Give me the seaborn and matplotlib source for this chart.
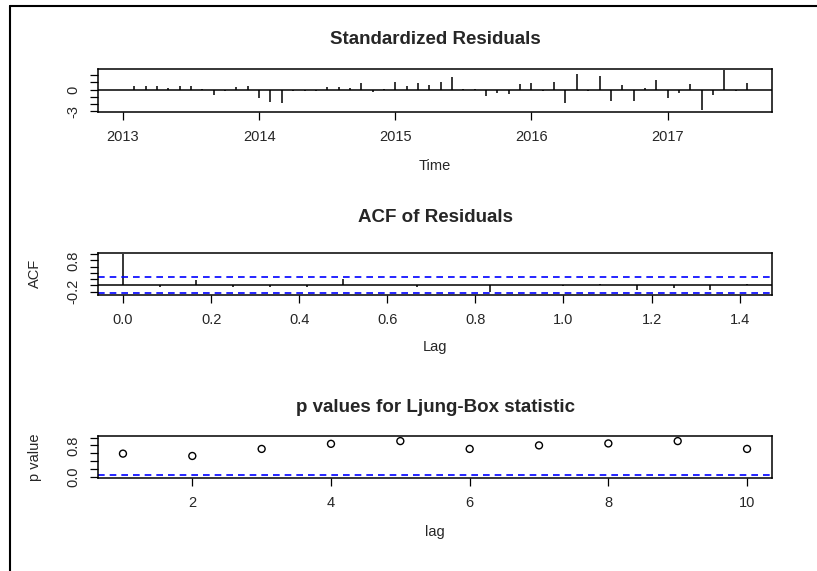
import numpy as np
import pandas as pd
import matplotlib
matplotlib.use("Agg")
import matplotlib.pyplot as plt
from matplotlib.lines import Line2D
import seaborn as sns

# standardized residuals, monthly, Jan 2013 - Aug 2017
start_year = 2013
resid = [0.02, 0.47, 0.47, 0.47, 0.28, 0.47, 0.47, 0.05, -0.70, -0.23,
         0.33, 0.47, -1.16, -1.72, -1.86, -0.23, -0.23, -0.23, 0.42, 0.42,
         0.23, 0.88, -0.33, 0.05, 1.07, 0.47, 0.88, 0.60, 1.07, 1.77,
         0.03, 0.15, -0.88, -0.42, -0.60, 0.74, 0.90, -0.23, 1.07, -1.86,
         2.12, -0.23, 1.90, -1.53, 0.60, -1.53, 0.23, 1.30, -1.16, -0.42,
         0.74, -2.89, -0.70, 2.70, -0.23, 0.93]
year_ticks = [2013, 2014, 2015, 2016, 2017]

# ACF of residuals, lags 0..17 (months)
acf_vals = [1.0, -0.06, 0.16, -0.05, -0.05, -0.05, 0.20, 0.01, -0.07, 0.01,
            -0.22, 0.0, -0.01, 0.04, -0.16, -0.10, -0.16, 0.05]
acf_ticks = [0.0, 0.2, 0.4, 0.6, 0.8, 1.0, 1.2, 1.4]

# Ljung-Box p values
lb_lags = [1, 2, 3, 4, 5, 6, 7, 8, 9, 10]
lb_pvals = [0.59, 0.53, 0.71, 0.84, 0.91, 0.71, 0.80, 0.85, 0.91, 0.71]

sns.set_style("white")
plt.rcParams['font.family'] = ['Liberation Sans', 'DejaVu Sans']

W, H = 817, 571


def r_lim(lo, hi):
    # R style 4% padding
    pad = (hi - lo) * 0.04
    return lo - pad, hi + pad


def px_axes(fig, top, bottom, left=98, right=772):
    return fig.add_axes([left / W, 1 - bottom / H, (right - left) / W, (bottom - top) / H])


def style_axes(ax, yticks, ylabels):
    for s in ax.spines.values():
        s.set_visible(True)
        s.set_color('black')
        s.set_linewidth(1.1)
    ax.tick_params(direction='out', length=6, width=0.9, color='black',
                   labelsize=10.5, pad=7, bottom=True, left=True)
    ax.set_yticks(yticks)
    ax.set_yticklabels(ylabels, rotation=90, va='center')
    ax.set_xlabel('')
    ax.set_ylabel('')
    ax.grid(False)


fig = plt.figure(figsize=(W / 100, H / 100), dpi=100)

# --- standardized residuals ---
ax1 = px_axes(fig, 68.7, 112)
df_res = pd.DataFrame({'time': start_year + np.arange(len(resid)) / 12, 'resid': resid})
ax1.vlines(df_res['time'], 0, df_res['resid'], color='black', lw=1.1)
ax1.axhline(0, color='black', lw=1.1)
ax1.set_xlim(*r_lim(df_res['time'].min(), df_res['time'].max()))
ax1.set_ylim(*r_lim(min(resid), max(resid)))
ax1.set_xticks(year_ticks)
ax1.set_xticklabels([str(y) for y in year_ticks])
style_axes(ax1, [-3, -2, -1, 0, 1, 2], ['-3', '', '', '0', '', ''])

# --- ACF ---
ax2 = px_axes(fig, 252.7, 295)
n = len(resid)
clim = 1.96 / np.sqrt(n)
lags = np.arange(len(acf_vals)) / 12
ax2.vlines(lags, 0, acf_vals, color='black', lw=1.1)
ax2.axhline(0, color='black', lw=1.1)
for c in (clim, -clim):
    ax2.axhline(c, color='#0000ff', lw=1.2, ls=(0, (4, 3)))
ax2.set_xlim(*r_lim(lags.min(), lags.max()))
ax2.set_ylim(*r_lim(-clim, max(acf_vals)))
ax2.set_xticks(acf_ticks)
ax2.set_xticklabels([f'{t:.1f}' for t in acf_ticks])
style_axes(ax2, [-0.2, 0.0, 0.2, 0.4, 0.6, 0.8, 1.0], ['-0.2', '', '', '', '', '0.8', ''])

# --- Ljung-Box p values ---
ax3 = px_axes(fig, 436, 478.3)
df_lb = pd.DataFrame({'lag': lb_lags, 'p': lb_pvals})
sns.scatterplot(data=df_lb, x='lag', y='p', ax=ax3, marker='o', s=25,
                facecolor='none', edgecolor='black', linewidth=1.0)
ax3.axhline(0.05, color='#0000ff', lw=1.2, ls=(0, (4, 3)))
ax3.set_xlim(*r_lim(min(lb_lags), max(lb_lags)))
ax3.set_ylim(*r_lim(0, 1))
ax3.set_xticks([2, 4, 6, 8, 10])
style_axes(ax3, [0.0, 0.2, 0.4, 0.6, 0.8, 1.0], ['0.0', '', '', '', '0.8', ''])

# titles and axis labels
cx = 435 / W
for txt, y in [('Standardized Residuals', 40), ('ACF of Residuals', 217),
               ('p values for Ljung-Box statistic', 408)]:
    fig.text(cx, 1 - y / H, txt, ha='center', va='center', fontsize=13.5, fontweight='bold')
for txt, y in [('Time', 166), ('Lag', 347), ('lag', 532)]:
    fig.text(cx, 1 - y / H, txt, ha='center', va='center', fontsize=10.5)
fig.text(35 / W, 1 - 273 / H, 'ACF', rotation=90, ha='center', va='center', fontsize=10.5)
fig.text(35 / W, 1 - 457 / H, 'p value', rotation=90, ha='center', va='center', fontsize=10.5)

# screenshot frame
fig.add_artist(Line2D([10 / W, 10 / W], [0, 1 - 6 / H], color='black', lw=1.5))
fig.add_artist(Line2D([10 / W, 1], [1 - 6 / H, 1 - 6 / H], color='black', lw=1.5))

fig.savefig('out.png', dpi=100)
